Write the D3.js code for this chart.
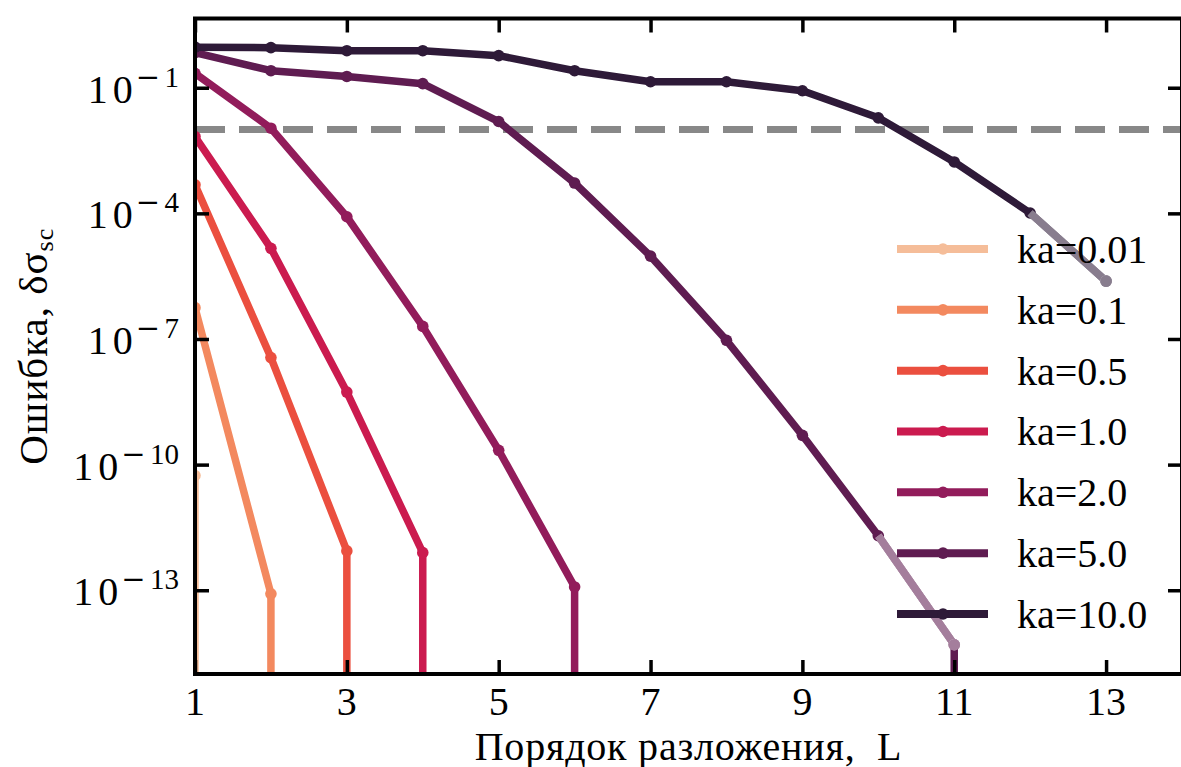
<!DOCTYPE html>
<html><head><meta charset="utf-8">
<script src="https://cdn.jsdelivr.net/npm/d3@7"></script>
<style>html,body{margin:0;padding:0;background:#fff;} svg{display:block;}
.serif{font-family:"Liberation Serif","Times New Roman",Times,serif;}
</style>
</head><body><svg id="chart" width="1181" height="767"></svg>
<script>
// ---------- data ----------
const seriesNames = ["ka=0.01","ka=0.1","ka=0.5","ka=1.0","ka=2.0","ka=5.0","ka=10.0"];
// error vs expansion order L = 1,2,3,... (0 = exact, drawn as a drop to the bottom)
const err_ka0_01 = [5.5e-11, 0];
const err_ka0_1  = [5.6e-7, 8.2e-14, 0];
const err_ka0_5  = [4.8e-4, 3.6e-8, 8.7e-13, 0];
const err_ka1    = [6.8e-3, 1.46e-5, 5.4e-9, 7.9e-13, 0];
const err_ka2    = [0.22, 0.0108, 8.3e-5, 2.0e-7, 2.2e-10, 1.2e-13, 0];
const err_ka5    = [0.69, 0.255, 0.186, 0.125, 0.0156, 5.3e-4, 9.5e-6, 9.3e-8, 5.0e-10, 2.0e-12, 5.0e-15, 0];
const err_ka10   = [0.93, 0.906, 0.767, 0.767, 0.583, 0.255, 0.139, 0.139, 0.0848, 0.0191, 1.69e-3, 1.02e-4, 2.41e-6];
const fadedFrom  = [null, null, null, null, null, 10, 12];   // order where the faded part begins
const threshold  = 1e-2;
const xTicks     = [1, 3, 5, 7, 9, 11, 13];
const yTickExps  = [-1, -4, -7, -10, -13];
const xLabel = "Порядок разложения,  L";
const yLabel = "Ошибка, δσ";
const yLabelSub = "sc";

const palette = ["#f5bd99","#f3895f","#eb4f3f","#cb1b4f","#921c5b","#5f1c51","#2e1a38"];
const allErr = [err_ka0_01, err_ka0_1, err_ka0_5, err_ka1, err_ka2, err_ka5, err_ka10];

// ---------- layout ----------
const L0 = 195, R0 = 1182, T0 = 18.5, B0 = 674;
const svg = d3.select("#chart");

const x = d3.scaleLinear().domain([1, 14]).range([L0, R0]);
const y = d3.scaleLog().domain([1e-15, 4.5]).range([B0, T0]);

svg.append("defs").append("clipPath").attr("id","clip")
  .append("rect").attr("x",L0).attr("y",T0).attr("width",R0-L0).attr("height",B0-T0);

const plot = svg.append("g").attr("clip-path","url(#clip)");

// threshold dashed line
plot.append("line")
  .attr("x1", x(1)).attr("x2", x(14))
  .attr("y1", y(threshold)).attr("y2", y(threshold))
  .attr("stroke","#888888").attr("stroke-width",7).attr("stroke-dasharray","30,14");

const series = allErr.map((vals, i) => ({
  name: seriesNames[i], color: palette[i], fade: fadedFrom[i],
  pts: vals.map((v, j) => ({L: j + 1, v}))
}));

function px(p, arr, idx) {
  if (p.v > 0) return [x(p.L), y(p.v)];
  const prev = arr[idx - 1];
  return [x(prev.L), B0 + 60];
}
const lineGen = d3.line();

series.forEach(s => {
  const coords = s.pts.map((p, k) => px(p, s.pts, k));
  plot.append("path").attr("d", lineGen(coords))
    .attr("fill","none").attr("stroke", s.color).attr("stroke-width",7.5)
    .attr("stroke-linejoin","round");
  const pos = s.pts.filter(p => p.v > 0);
  plot.selectAll(null).data(pos).enter().append("circle")
    .attr("cx", p => x(p.L)).attr("cy", p => y(p.v)).attr("r", 5.8)
    .attr("fill", s.color);
  if (s.fade !== null) {
    const fp = s.pts.filter(p => p.L >= s.fade && p.v > 0);
    const fc = fp.map(p => [x(p.L), y(p.v)]);
    plot.append("path").attr("d", lineGen(fc)).attr("fill","none")
      .attr("stroke","#fff").attr("stroke-width",7.5).attr("stroke-linejoin","round");
    plot.append("path").attr("d", lineGen(fc)).attr("fill","none")
      .attr("stroke", s.color).attr("stroke-opacity",0.57).attr("stroke-width",7.5).attr("stroke-linejoin","round");
    const last = fp[fp.length - 1];
    plot.append("circle").attr("cx", x(last.L)).attr("cy", y(last.v)).attr("r",5.8).attr("fill","#fff");
    plot.append("circle").attr("cx", x(last.L)).attr("cy", y(last.v)).attr("r",5.8)
      .attr("fill", s.color).attr("fill-opacity",0.57);
  }
});

// ---------- axes (inward ticks on all four sides) ----------
const yTickVals = yTickExps.map(e => Math.pow(10, e));
const tickStyle = g => { g.select(".domain").remove();
  g.selectAll(".tick line").attr("stroke","#000").attr("stroke-width",3.5);
  g.selectAll(".tick text").remove(); };

svg.append("g").attr("transform",`translate(${L0},0)`)
  .call(d3.axisLeft(y).tickValues(yTickVals).tickSizeInner(-14).tickSizeOuter(0)).call(tickStyle);
svg.append("g").attr("transform",`translate(${R0},0)`)
  .call(d3.axisRight(y).tickValues(yTickVals).tickSizeInner(-14).tickSizeOuter(0)).call(tickStyle);
svg.append("g").attr("transform",`translate(0,${B0})`)
  .call(d3.axisBottom(x).tickValues(xTicks).tickSizeInner(-14).tickSizeOuter(0)).call(tickStyle);
svg.append("g").attr("transform",`translate(0,${T0})`)
  .call(d3.axisTop(x).tickValues(xTicks).tickSizeInner(-14).tickSizeOuter(0)).call(tickStyle);

// spines
svg.append("rect").attr("x",L0).attr("y",T0).attr("width",R0-L0).attr("height",B0-T0)
  .attr("fill","none").attr("stroke","#000").attr("stroke-width",4);

// y tick labels 10^{-n}
yTickExps.forEach(e => {
  const ty = y(Math.pow(10, e));
  const t = svg.append("text").attr("class","serif").attr("x", L0 - 16).attr("y", ty + 15)
    .attr("text-anchor","end").style("font-size","40px").attr("fill","#000");
  t.append("tspan").text("1");
  t.append("tspan").attr("dx",5).text("0");
  t.append("tspan").attr("dx",3).attr("dy",-16).style("font-family","'DejaVu Sans',sans-serif")
    .style("font-size","29px").text("\u2212");
  t.append("tspan").attr("dx",4.5).style("font-size","29px").text(String(-e));
});

// x tick labels
svg.selectAll(null).data(xTicks).enter().append("text").attr("class","serif")
  .attr("x", d => x(d)).attr("y", 715).attr("text-anchor","middle")
  .style("font-size","40px").attr("fill","#000").text(d => d);

// axis titles
svg.append("text").attr("class","serif").attr("x", (L0 + R0) / 2).attr("y", 759.5).attr("text-anchor","middle")
  .style("font-size","40px").style("letter-spacing","0.8px").attr("fill","#000")
  .style("white-space","pre").text(xLabel);
const yl = svg.append("text").attr("class","serif").attr("transform",`translate(47,${(T0 + B0) / 2}) rotate(-90)`)
  .attr("text-anchor","middle").style("font-size","41px").style("letter-spacing","1px").attr("fill","#000");
yl.append("tspan").text(yLabel);
yl.append("tspan").style("font-size","26px").attr("dy",6).text(yLabelSub);

// ---------- legend ----------
const lg = svg.append("g");
series.forEach((s, i) => {
  const ry = 249 + i * 60.83;
  lg.append("line").attr("x1",897).attr("x2",988).attr("y1",ry).attr("y2",ry)
    .attr("stroke", s.color).attr("stroke-width",8);
  lg.append("circle").attr("cx",943).attr("cy",ry).attr("r",5.8).attr("fill", s.color);
  lg.append("text").attr("class","serif").attr("x",1017).attr("y",ry + 14)
    .style("font-size","40px").attr("fill","#000").text(s.name);
});
</script></body></html>
